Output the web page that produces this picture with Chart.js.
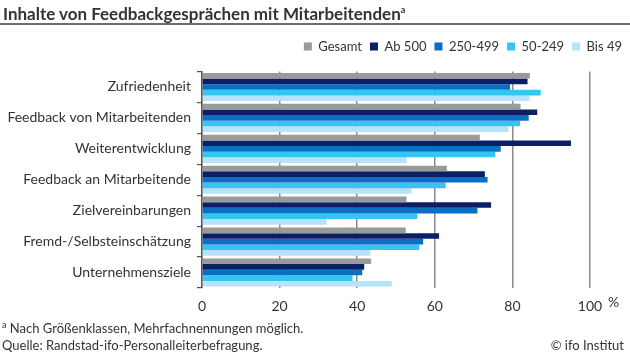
<!DOCTYPE html>
<html>
<head>
<meta charset="utf-8">
<script src="https://cdn.jsdelivr.net/npm/chart.js@4"></script>
<style>
  body { margin: 0; background: #fff; font-family: Lato, sans-serif; color: #333; }
  #wrap { position: relative; width: 630px; height: 354px; }
  #title { position: absolute; left: 3px; top: 3px; font-size: 17px; font-weight: 700; color: #333; white-space: nowrap; }
  #rule { position: absolute; left: 0; top: 23px; width: 630px; height: 2px; background: #6e6e6e; }
  .note { position: absolute; font-size: 13px; color: #333; white-space: nowrap; }
  sup { font-size: 9px; }
</style>
</head>
<body>
<div id="wrap">
  <canvas id="chart" width="630" height="354"></canvas>
  <div id="title">Inhalte von Feedbackgesprächen mit Mitarbeitenden<sup>a</sup></div>
  <div id="rule"></div>
  <div class="note" style="left:608px; top:293px; font-size:14px;">%</div>
  <div class="note" style="left:2px; top:319px;"><sup>a</sup> Nach Größenklassen, Mehrfachnennungen möglich.</div>
  <div class="note" style="left:2px; top:337px;">Quelle: Randstad-ifo-Personalleiterbefragung.</div>
  <div class="note" style="right:6px; top:337px;">© ifo Institut</div>
</div>
<script>
  // Categories and series
  const categories = [
    "Zufriedenheit",
    "Feedback von Mitarbeitenden",
    "Weiterentwicklung",
    "Feedback an Mitarbeitende",
    "Zielvereinbarungen",
    "Fremd-/Selbsteinschätzung",
    "Unternehmensziele",
  ];
  const seriesNames = ["Gesamt", "Ab 500", "250-499", "50-249", "Bis 49"];
  const gesamt = [84.5, 82.1, 71.6, 63.1, 52.7, 52.5, 43.6];
  const ab500 = [83.9, 86.4, 95.1, 72.9, 74.5, 61.1, 41.8];
  const mittel = [79.4, 84.2, 77.0, 73.6, 71.0, 57.0, 41.3];
  const klein = [87.3, 82.0, 75.6, 62.8, 55.5, 56.0, 38.8];
  const bis49 = [84.4, 79.0, 52.8, 54.0, 32.1, 43.4, 48.9];
  const xTicks = [0, 20, 40, 60, 80, 100];

  const colors = ["#9a9a9a", "#0c1f66", "#0b6fc2", "#37c3f3", "#b5e3fa"];
  const values = [gesamt, ab500, mittel, klein, bis49];

  const ctx = document.getElementById("chart");
  Chart.defaults.font.family = "Lato, sans-serif";
  Chart.defaults.color = "#333";

  // extra space under the legend
  const legendGap = {
    id: "legendGap",
    beforeInit(chart) {
      const fit = chart.legend.fit;
      chart.legend.fit = function () {
        fit.call(this);
        this.height += 8.5;
      };
    },
  };

  new Chart(ctx, {
    type: "bar",
    data: {
      labels: categories,
      datasets: seriesNames.map((name, i) => ({
        label: name,
        data: values[i],
        backgroundColor: colors[i],
        categoryPercentage: 0.91,
        barPercentage: 1.0,
      })),
    },
    options: {
      indexAxis: "y",
      responsive: false,
      animation: false,
      layout: { padding: { left: 0, right: 0, top: 32, bottom: 36 } },
      scales: {
        x: {
          min: 0,
          max: 100,
          afterBuildTicks: (axis) => {
            axis.ticks = xTicks.map((v) => ({ value: v }));
          },
          afterFit: (axis) => {
            axis.height = 30;
          },
          ticks: { font: { size: 14 }, padding: 10, color: "#333" },
          grid: { color: "#8c8c8c", lineWidth: 1.5, drawTicks: false },
          border: { display: false },
        },
        y: {
          afterFit: (axis) => {
            axis.width = 202;
          },
          ticks: { font: { size: 14 }, padding: 6, color: "#333" },
          grid: { drawOnChartArea: false, tickLength: 5, color: "#555", lineWidth: 1.2 },
          border: { color: "#555", width: 1.5 },
        },
        yr: {
          type: "category",
          position: "right",
          ticks: { display: false },
          grid: { display: false },
          border: { display: false },
          afterFit: (axis) => {
            axis.width = 40;
          },
        },
      },
      plugins: {
        legend: {
          position: "top",
          align: "end",
          labels: {
            boxWidth: 8,
            boxHeight: 8,
            padding: 8,
            font: { size: 13 },
            color: "#333",
          },
        },
        tooltip: { enabled: false },
      },
    },
    plugins: [legendGap],
  });
</script>
</body>
</html>
